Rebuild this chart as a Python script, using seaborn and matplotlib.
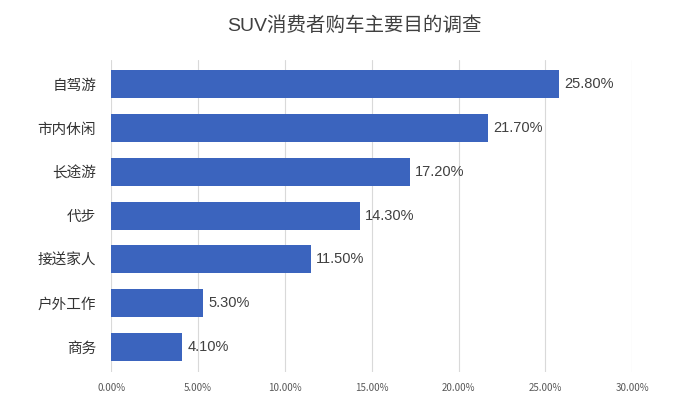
import matplotlib
matplotlib.use("Agg")
import matplotlib.pyplot as plt
import seaborn as sns
import pandas as pd
from matplotlib.ticker import FuncFormatter

categories = ["自驾游", "市内休闲", "长途游", "代步", "接送家人", "户外工作", "商务"]
values = [25.80, 21.70, 17.20, 14.30, 11.50, 5.30, 4.10]
xticks = [0, 5, 10, 15, 20, 25, 30]

df = pd.DataFrame({"category": categories, "value": values})

sns.set_theme(style="white")
plt.rcParams['font.family'] = ['Noto Sans CJK SC', 'DejaVu Sans']

fig = plt.figure(figsize=(7, 4.15), dpi=100)
ax = fig.add_axes([0.159, 0.104, 0.744, 0.751])

sns.barplot(data=df, x="value", y="category", orient="h", color="#3b64be",
            saturation=1, width=0.64, ax=ax, zorder=3, linewidth=0)

ax.set_xlim(0, 30)
ax.set_ylim(6.57, -0.55)
ax.set_xticks(xticks)
ax.xaxis.set_major_formatter(FuncFormatter(lambda v, p: f"{v:.2f}%"))
ax.grid(axis="x", color="#d9d9d9", linewidth=0.8, zorder=0)
ax.grid(axis="y", visible=False)
for s in ax.spines.values():
    s.set_visible(False)
ax.tick_params(axis="x", labelsize=7, colors="#595959", length=0, pad=8)
ax.tick_params(axis="y", labelsize=10.5, colors="#333333", length=0, pad=11)
ax.set_xlabel("")
ax.set_ylabel("")

for i, v in enumerate(values):
    ax.text(v + 0.3, i, f"{v:.2f}%", va="center", ha="left", fontsize=10.5,
            color="#404040", zorder=4, family=['Liberation Sans', 'Noto Sans CJK SC'])

fig.text(0.506, 0.937, "SUV消费者购车主要目的调查", ha="center", va="center", fontsize=14,
         color="#404040", family=['Liberation Sans', 'Noto Sans CJK SC'])

fig.savefig("out.png", dpi=100, facecolor="white")
